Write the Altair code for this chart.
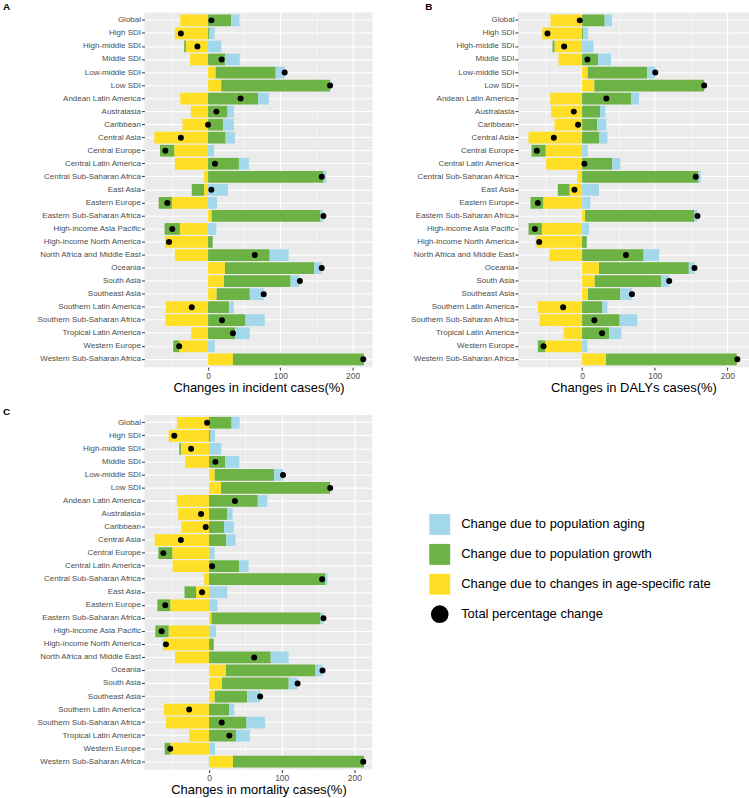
import altair as alt
import pandas as pd

FONT = "Liberation Sans"

categories = ["Global", "High SDI", "High-middle SDI", "Middle SDI", "Low-middle SDI", "Low SDI",
              "Andean Latin America", "Australasia", "Caribbean", "Central Asia", "Central Europe",
              "Central Latin America", "Central Sub-Saharan Africa", "East Asia", "Eastern Europe",
              "Eastern Sub-Saharan Africa", "High-income Asia Pacific", "High-income North America",
              "North Africa and Middle East", "Oceania", "South Asia", "Southeast Asia",
              "Southern Latin America", "Southern Sub-Saharan Africa", "Tropical Latin America",
              "Western Europe", "Western Sub-Saharan Africa"]

components = ["Change due to changes in age-specific rate", "Change due to population growth",
              "Change due to population aging"]
component_colors = ["#FEDF25", "#6CB244", "#A3D8EA"]

# Panel A: incident cases
rate_A = [-38.5, -46, -30.7, -24.8, 10.6, 18.3, -38.5, -23.9, -35.3, -74.3, -46.8, -45.9, -5.5, -5.5,
          -50, 5, -39, -58.6, -45.9, 23.4, 22, 11.9, -58.3, -58.7, -23.4, -39.9, 34.4]
growth_A = [32, 2, -2.3, 23.4, 83, 150.5, 69.3, 27, 20.6, 24.3, -19.7, 42.7, 159.6, -17,
            -18.3, 150.5, -21.1, 6.4, 85.3, 123.4, 92.2, 45.9, 28.9, 51.8, 37.6, -8.3, 181.2]
aging_A = [11.5, 7, 18.3, 20.6, 12.4, 0.3, 14.7, 8.7, 15.1, 12.8, 8.3, 13.8, 3.7, 27.5,
           12.4, 4, 11.5, -1, 26.1, 10.6, 12.8, 19.3, 6.9, 26.6, 20.2, 9.2, 0.2]
total_A = [4.6, -37.6, -14.7, 18.8, 106, 168.8, 45, 11.5, 0, -37.6, -59, 9.6, 157.3, 4.6,
           -56.4, 159.6, -49.5, -54, 64.7, 157.3, 127, 77, -22.5, 19.3, 34.4, -39.9, 214.7]

# Panel B: DALYs
rate_B = [-43.5, -54.9, -38, -32.5, 7.8, 16.9, -43.9, -42.6, -38, -73.7, -50.3, -49.4, -6.4, -17.4,
          -53.5, 4.1, -55.4, -63, -44.9, 23.3, 17.4, 8.2, -60.9, -58.6, -25.6, -50.8, 33]
growth_B = [31.1, 1.4, -2.7, 22, 81.9, 151, 67.3, 24.7, 20.6, 23.8, -19.2, 41.6, 160.2, -16,
            -17.4, 150.6, -18.3, 6.4, 84.7, 123.6, 91.5, 44.4, 27.9, 51.7, 37.1, -10, 179.9]
aging_B = [10, 6.9, 15.6, 17.8, 11, 0.2, 11, 7.3, 12.8, 11, 7.8, 11, 3.2, 23.3,
           11.4, 4.1, 9.6, -1, 21.5, 7.8, 11, 16, 6.9, 24.3, 16.9, 7.3, -0.5]
total_B = [-3.2, -47.6, -24.7, 7.3, 100.7, 168, 33.4, -11.4, -5.5, -38.9, -62.2, 3.2, 156.5, -10.5,
           -60.9, 158.8, -65, -59, 60.4, 154.7, 119.9, 68.6, -26.1, 16.9, 27.5, -53.1, 213.7]

# Panel C: mortality
rate_C = [-44.3, -55.7, -38.8, -32.9, 7.8, 16.4, -44.3, -42.5, -38.4, -74.9, -50.7, -50.2, -6.8, -17.8,
          -53.4, 3.2, -55.7, -63, -47, 23.3, 17.8, 7.8, -62.1, -59.4, -27.4, -53.4, 32.9]
growth_C = [31, 1.8, -2.3, 22.4, 81.7, 150.2, 67.1, 24.7, 20.5, 23.7, -19.2, 41.6, 159.8, -16,
            -17.8, 150.2, -18.3, 6.4, 84.9, 123.3, 91.8, 44.7, 27.4, 51.6, 37, -7.8, 180.4]
aging_C = [11, 6.4, 16.9, 19.2, 12.3, 0.2, 13.2, 7.8, 13.7, 12.8, 7.8, 12.8, 3.2, 25.1,
           11.4, 4.1, 9.6, -1, 24.7, 9.6, 12.3, 17.8, 7.3, 25.6, 19.2, 8.2, -0.5]
total_C = [-2.7, -47.9, -24.7, 8.7, 101.8, 166.7, 35.6, -11, -4.6, -38.8, -63, 4.1, 155.7, -9.6,
           -60.3, 157.5, -65.3, -59.4, 62.1, 156.2, 121.9, 70.3, -27.4, 17.4, 27.9, -53.4, 212.3]

x_ticks = [-50, 0, 50, 100, 150, 200]

legend_labels = ["Change due to population aging", "Change due to population growth",
                 "Change due to changes in age-specific rate", "Total percentage change"]
legend_colors = ["#A3D8EA", "#6CB244", "#FEDF25", "#000000"]
legend_kinds = ["square", "square", "square", "circle"]


def panel(rate, growth, aging, total, xtitle, domain, tag, tag_dx, tag_offset, width):
    rows = []
    for i, c in enumerate(categories):
        for k, vals in enumerate([rate, growth, aging]):
            rows.append({"cat": c, "comp": components[k], "value": vals[i], "ord": k})
    df = pd.DataFrame(rows)
    tot = pd.DataFrame({"cat": categories, "total": total})

    yenc = alt.Y("cat:N", sort=categories,
                 scale=alt.Scale(paddingInner=0.1, paddingOuter=0.15),
                 axis=alt.Axis(title=None, labelFontSize=8, labelColor="#4D4D4D", labelFont=FONT,
                               tickSize=3, tickColor="#333333", labelPadding=1, domain=False,
                               grid=True, gridColor="white", gridWidth=1.1, bandPosition=0.5,
                               labelLimit=300))
    xaxis = alt.Axis(values=x_ticks, title=xtitle, titleFontSize=13, titleFontWeight="normal",
                     titleColor="black", titleFont=FONT, titlePadding=2,
                     labelFontSize=8.5, labelColor="#4D4D4D", labelFont=FONT, labelPadding=1,
                     labelExpr="datum.value % 100 === 0 ? datum.label : ''",
                     tickSize=3, tickColor="#333333",
                     tickOpacity={"condition": {"test": "datum.value % 100 === 0", "value": 1}, "value": 0},
                     domain=False, grid=True, gridColor="white", gridOpacity=1,
                     gridWidth={"condition": {"test": "datum.value % 100 === 0", "value": 1.1}, "value": 0.5})
    xscale = alt.Scale(domain=domain, nice=False, zero=False)

    bars = alt.Chart(df).mark_bar().encode(
        x=alt.X("value:Q", stack="zero", scale=xscale, axis=xaxis),
        y=yenc,
        color=alt.Color("comp:N", scale=alt.Scale(domain=components, range=component_colors), legend=None),
        order=alt.Order("ord:Q"),
    )
    dots = alt.Chart(tot).mark_circle(size=36, color="black", opacity=1).encode(
        x=alt.X("total:Q", scale=xscale),
        y=yenc,
    )
    return alt.layer(bars, dots).properties(
        width=width, height=356,
        title=alt.TitleParams(tag, anchor="start", frame="group", dx=tag_dx, fontSize=10,
                              fontWeight="bold", font=FONT, color="black", offset=tag_offset),
    )


pA = panel(rate_A, growth_A, aging_A, total_A, "Changes in incident cases(%)", [-88, 227.5], "A", -142, 0.5, 229)
pB = panel(rate_B, growth_B, aging_B, total_B, "Changes in DALYs cases(%)", [-88.3, 229.7], "B", -93, 0.5, 232)
pC = panel(rate_C, growth_C, aging_C, total_C, "Changes in mortality cases(%)", [-89, 225], "C", -142, -2, 229)

leg_df = pd.DataFrame({"label": legend_labels, "color": legend_colors, "kind": legend_kinds})
lbase = alt.Chart(leg_df).encode(
    y=alt.Y("label:N", sort=legend_labels, scale=alt.Scale(type="point", range=[110, 200], padding=0),
            axis=None)
)
lsq = lbase.transform_filter("datum.kind == 'square'").mark_square(size=441, opacity=1).encode(
    x=alt.value(67.5), color=alt.Color("color:N", scale=None))
lci = lbase.transform_filter("datum.kind == 'circle'").mark_circle(size=314, opacity=1).encode(
    x=alt.value(67.5), color=alt.Color("color:N", scale=None))
ltx = lbase.mark_text(align="left", baseline="middle", fontSize=13, font=FONT, color="black").encode(
    x=alt.value(89), text="label:N")
legend = alt.layer(lsq, lci, ltx).properties(
    width=370, height=356, view=alt.ViewBackground(fill="white", strokeWidth=0))

row1 = alt.hconcat(pA, pB, spacing=37)
row2 = alt.hconcat(pC, legend, spacing=0)
chart = alt.vconcat(row1, row2, spacing=12).properties(
    padding={"left": 3, "top": 0, "right": 0, "bottom": 0}
).configure(font=FONT).configure_view(fill="#EBEBEB", strokeWidth=0)

chart.save("out.html", embed_options={"renderer": "svg", "actions": False})
